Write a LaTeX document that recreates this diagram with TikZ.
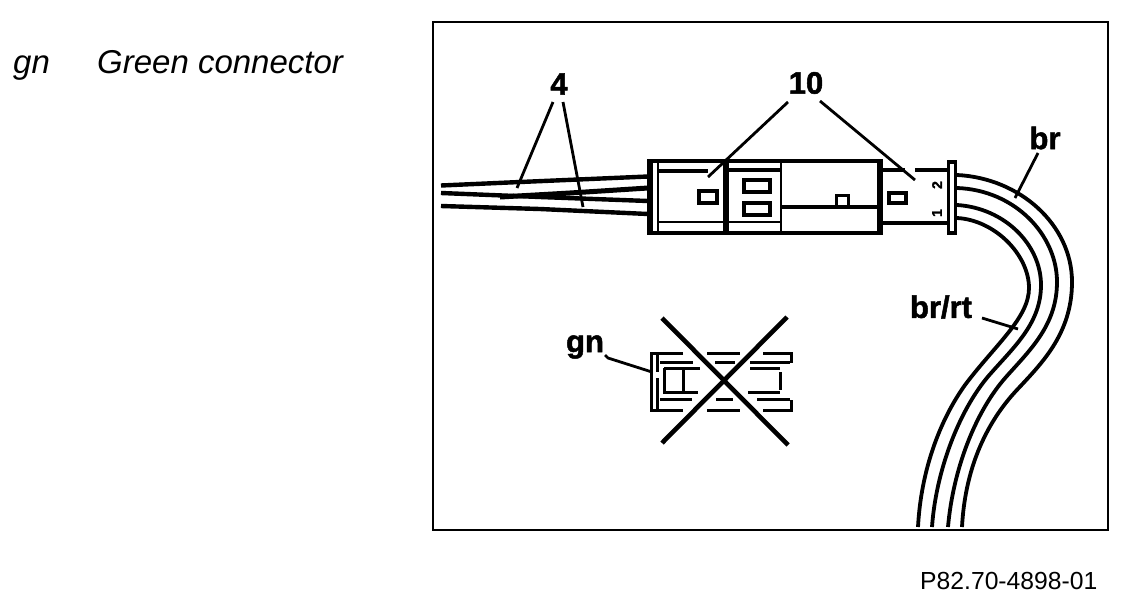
\documentclass[tikz,border=0pt]{standalone}
\usepackage{fontspec}
\setmainfont{Liberation Sans}
\newfontfamily\heavyfont[FakeBold=1.6]{Liberation Sans Bold}
\tikzset{
  px/.style={x=1pt,y=-1pt},
  lbl/.style={inner sep=0pt,font=\heavyfont\fontsize{31}{31}\selectfont},
  txt/.style={inner sep=0pt,anchor=base west},
  leader/.style={line width=2.8pt},
  wire/.style={line width=3.8pt},
  lead/.style={line width=4.4pt},
  thick1/.style={line width=3.6pt},
  thin1/.style={line width=2pt},
  thick2/.style={line width=5.5pt},
  cross/.style={line width=4.6pt},
  small/.style={line width=3pt}
}
\begin{document}
\begin{tikzpicture}[px]
\useasboundingbox (0,0) rectangle (1122,600);
\fill[white] (0,0) rectangle (1122,600);
\draw[line width=2pt] (433,22) rectangle (1108,530);
% page texts
\node[txt,font=\itshape\fontsize{33}{33}\selectfont] (tgn) at (13,73) {gn};
\node[txt,font=\itshape\fontsize{33}{33}\selectfont] (tgc) at (97,73) {Green connector};
\node[txt,font=\fontsize{24.7}{24.7}\selectfont] (tpn) at (920,589) {P82.70-4898-01};
% left wires
\draw[lead] (441,185.5) -- (520,182) -- (648,176.5);
\draw[line width=5pt] (500,197) -- (570,193) -- (648,188);
\draw[lead] (441,193) -- (540,197) -- (648,201);
\draw[lead] (441,206) -- (540,209) -- (648,214);
% main connector
\draw[thick1] (650,161) -- (881,161) (650,233) -- (881,233);
\draw[thick2] (650,159) -- (650,235);
\draw[thin1] (658,162) -- (658,232);
\draw[thick1] (659,171) -- (708,171);
\draw[thick1] (728,170) -- (781,170);
\draw[thin1] (659,222) -- (781,222);
\draw[line width=6.5pt] (726,161) -- (726,234);
\draw[thin1] (781,161) -- (781,233);
\draw[thick2] (880,159) -- (880,235);
\draw[thick1] (781,207) -- (880,207);
\draw[small] (836,207) -- (836,195) -- (848,195) -- (848,207);
\draw[thick1] (744,180) rectangle (770,192);
\draw[thick1] (744,203) rectangle (770,215);
\draw[line width=4pt] (699,191) rectangle (717,203);
% right section
\draw[thick1] (882,170) -- (905,170) (915,170) -- (947,170);
\draw[thick1] (882,223) -- (947,223);
\draw[thick1] (889,193) rectangle (906,203);
\draw[thick1,fill=white] (948.5,162) rectangle (955.5,233);
\node[inner sep=0pt,rotate=90,font=\heavyfont\fontsize{14}{14}\selectfont] (n2) at (937,185) {2};
\node[inner sep=0pt,rotate=90,font=\heavyfont\fontsize{14}{14}\selectfont] (n1) at (937,213) {1};
% right wires
\draw[wire] (957,175) .. controls (1020,178) and (1072,225) .. (1072,282) .. controls (1072,335) and (1040,365) .. (1015,392) .. controls (985,425) and (965,470) .. (962,527);
\draw[wire] (957,188) .. controls (1015,190) and (1057,235) .. (1057,282) .. controls (1057,325) and (1030,350) .. (1006,377) .. controls (975,412) and (953,470) .. (948,527);
\draw[wire] (957,205) .. controls (1005,208) and (1041,245) .. (1041,285) .. controls (1041,322) and (1016,345) .. (992,372) .. controls (960,407) and (936,470) .. (932,527);
\draw[wire] (957,218) .. controls (995,220) and (1029,255) .. (1029,288) .. controls (1029,318) and (995,345) .. (965,385) .. controls (940,420) and (921,470) .. (918,527);
% small crossed connector
\draw[small] (683,353) -- (651,353) -- (651,410) -- (683,410);
\draw[small] (707,353) -- (740,353) (707,410) -- (740,410);
\draw[small] (763,353) -- (791,353) -- (791,363) (763,410) -- (791,410) -- (791,400);
\draw[small] (657.5,353) -- (657.5,372) (657.5,378) -- (657.5,409);
\draw[small] (660,362) -- (693,362) (715,362) -- (735,362) (750,362) -- (790,362);
\draw[small] (664,368) -- (700,368) (750,368) -- (780,368);
\draw[small] (664,368) -- (664,392) -- (698,392) (748,392) -- (780,392);
\draw[small] (660,399) -- (692,399) (716,399) -- (733,399) (757,399) -- (790,399);
\draw[small] (683,369) -- (683,392);
\draw[small] (780,372) -- (780,390);
\coordinate (xa) at (662,318); \coordinate (xb) at (788,445);
\coordinate (xc) at (787,317); \coordinate (xd) at (662,443);
\draw[cross] (xa) -- (xb);
\draw[cross] (xc) -- (xd);
% labels
\node[lbl] (l4) at (559,84) {4};
\node[lbl] (l10) at (806,83) {10};
\node[lbl] (lbr) at (1045,138) {br};
\node[lbl] (lbrrt) at (941,307) {br/rt};
\node[lbl] (lgn) at (585,347) {gn};
% leaders
\coordinate (e4a) at (517,188); \coordinate (e4b) at (583,207);
\coordinate (e10a) at (708,177); \coordinate (e10b) at (915,180);
\coordinate (ebr) at (1015,198); \coordinate (ebrrt) at (1018,329);
\coordinate (egn) at (652,372);
\draw[leader] (553,102) -- (e4a);
\draw[leader] (563,102) -- (e4b);
\draw[leader] (788,102) -- (e10a);
\draw[leader] (820,101) -- (e10b);
\draw[leader] (1038,153) -- (ebr);
\draw[leader] (982,318) -- (ebrrt);
\draw[leader] (605,355) -- (608,358) -- (egn);
\end{tikzpicture}
\end{document}
